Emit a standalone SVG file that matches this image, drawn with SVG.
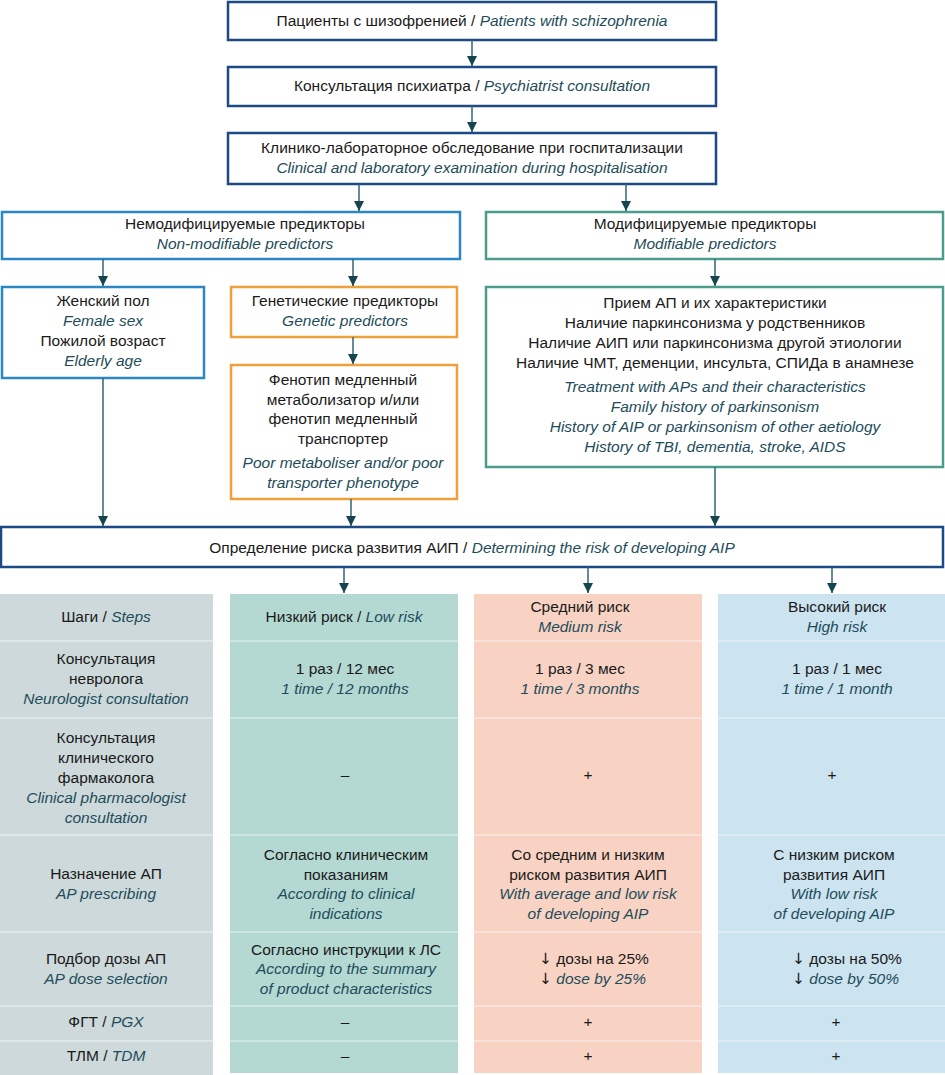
<svg xmlns="http://www.w3.org/2000/svg" width="945" height="1075" viewBox="0 0 945 1075">
<defs>
<marker id="ah" viewBox="0 0 10 10" refX="10" refY="5" markerWidth="10" markerHeight="10" markerUnits="userSpaceOnUse" orient="auto">
<path d="M0,0 L10,5 L0,10 z" fill="#16444f"/>
</marker>
<style>
text{font-family:"Liberation Sans",Arial,sans-serif;font-size:15.5px;fill:#1a1a1a;text-anchor:middle}
.i{font-style:italic;fill:#1d4c5a}
.navy{fill:#fff;stroke:#1d4a85;stroke-width:2.5}
.blue{fill:#fff;stroke:#2b86c5;stroke-width:2.5}
.teal{fill:#fff;stroke:#4c9c8c;stroke-width:2.5}
.orange{fill:#fff;stroke:#eea03a;stroke-width:2.5}
.con line{stroke:#2f6673;stroke-width:1.5;marker-end:url(#ah)}
.sep{stroke:#ffffff;stroke-opacity:0.45;stroke-width:1.5}
.l{text-anchor:start}
.ar{font-family:"DejaVu Sans",sans-serif;fill:#1a1a1a;font-style:normal}
</style>
</defs>
<rect width="945" height="1075" fill="#fff"/>

<g id="n1"><rect class="navy" x="228" y="2" width="488" height="38"/>
<text x="472" y="26">Пациенты с шизофренией / <tspan class="i">Patients with schizophrenia</tspan></text></g>
<g id="n2"><rect class="navy" x="228" y="67" width="488" height="39"/>
<text x="472" y="91">Консультация психиатра / <tspan class="i">Psychiatrist consultation</tspan></text></g>
<g id="n3"><rect class="navy" x="228" y="133" width="488" height="51"/>
<text x="472" y="153">Клинико-лабораторное обследование при госпитализации</text>
<text x="472" y="173" class="i">Clinical and laboratory examination during hospitalisation</text></g>

<g id="nonmod"><rect class="blue" x="2" y="212" width="458" height="47"/>
<text x="245" y="229">Немодифицируемые предикторы</text>
<text x="245" y="249" class="i">Non-modifiable predictors</text></g>
<g id="mod"><rect class="teal" x="486" y="212" width="457" height="47"/>
<text x="705" y="229">Модифицируемые предикторы</text>
<text x="705" y="249" class="i">Modifiable predictors</text></g>

<g id="female"><rect class="blue" x="2" y="287" width="202" height="91"/>
<text x="103" y="306">Женский пол</text>
<text x="103" y="326" class="i">Female sex</text>
<text x="103" y="346">Пожилой возраст</text>
<text x="103" y="366" class="i">Elderly age</text></g>
<g id="genetic"><rect class="orange" x="231" y="287" width="226" height="50"/>
<text x="345" y="306">Генетические предикторы</text>
<text x="345" y="326" class="i">Genetic predictors</text></g>
<g id="phenotype"><rect class="orange" x="231" y="365" width="226" height="134"/>
<text x="343" y="385">Фенотип медленный</text>
<text x="343" y="405">метаболизатор и/или</text>
<text x="343" y="424">фенотип медленный</text>
<text x="343" y="444">транспортер</text>
<text x="343" y="468" class="i">Poor metaboliser and/or poor</text>
<text x="343" y="488" class="i">transporter phenotype</text></g>
<g id="modlist"><rect class="teal" x="486" y="287" width="457" height="180"/>
<text x="715" y="308">Прием АП и их характеристики</text>
<text x="715" y="328">Наличие паркинсонизма у родственников</text>
<text x="715" y="348">Наличие АИП или паркинсонизма другой этиологии</text>
<text x="715" y="368">Наличие ЧМТ, деменции, инсульта, СПИДа в анамнезе</text>
<text x="715" y="392" class="i">Treatment with APs and their characteristics</text>
<text x="715" y="412" class="i">Family history of parkinsonism</text>
<text x="715" y="432" class="i">History of AIP or parkinsonism of other aetiology</text>
<text x="715" y="452" class="i">History of TBI, dementia, stroke, AIDS</text></g>

<g id="risk"><rect class="navy" x="1" y="527" width="942" height="40"/>
<text x="472" y="553">Определение риска развития АИП / <tspan class="i">Determining the risk of developing AIP</tspan></text></g>

<g id="connectors" class="con">
<line x1="472" y1="40" x2="472" y2="66"/>
<line x1="472" y1="106" x2="472" y2="132"/>
<line x1="359" y1="184" x2="359" y2="211"/>
<line x1="626" y1="184" x2="626" y2="211"/>
<line x1="103" y1="259" x2="103" y2="286"/>
<line x1="353" y1="259" x2="353" y2="286"/>
<line x1="715" y1="259" x2="715" y2="286"/>
<line x1="353" y1="337" x2="353" y2="364"/>
<line x1="103" y1="378" x2="103" y2="526"/>
<line x1="351" y1="499" x2="351" y2="526"/>
<line x1="715" y1="467" x2="715" y2="526"/>
<line x1="344" y1="567" x2="344" y2="593"/>
<line x1="588" y1="567" x2="588" y2="593"/>
<line x1="832" y1="567" x2="832" y2="593"/>
</g>

<g id="table">
<rect x="0" y="594" width="213" height="481" fill="#cdd9da"/>
<rect x="230" y="594" width="228" height="479" fill="#b4d9d3"/>
<rect x="474" y="594" width="228" height="479" fill="#f8d3c4"/>
<rect x="718" y="594" width="227" height="479" fill="#cce3f0"/>
<g class="sep">
<line x1="0" y1="641" x2="945" y2="641"/>
<line x1="0" y1="718" x2="945" y2="718"/>
<line x1="0" y1="835" x2="945" y2="835"/>
<line x1="0" y1="932" x2="945" y2="932"/>
<line x1="0" y1="1006" x2="945" y2="1006"/>
<line x1="0" y1="1041" x2="945" y2="1041"/>
</g>

<text x="106" y="622">Шаги / <tspan class="i">Steps</tspan></text>
<text x="344" y="622">Низкий риск / <tspan class="i">Low risk</tspan></text>
<text x="580" y="612">Средний риск</text>
<text x="580" y="632" class="i">Medium risk</text>
<text x="837" y="612">Высокий риск</text>
<text x="837" y="632" class="i">High risk</text>

<text x="106" y="664">Консультация</text>
<text x="106" y="684">невролога</text>
<text x="106" y="704" class="i">Neurologist consultation</text>
<text x="345" y="674">1 раз / 12 мес</text>
<text x="345" y="694" class="i">1 time / 12 months</text>
<text x="580" y="674">1 раз / 3 мес</text>
<text x="580" y="694" class="i">1 time / 3 months</text>
<text x="837" y="674">1 раз / 1 мес</text>
<text x="837" y="694" class="i">1 time / 1 month</text>

<text x="106" y="743">Консультация</text>
<text x="106" y="763">клинического</text>
<text x="106" y="783">фармаколога</text>
<text x="106" y="803" class="i">Clinical pharmacologist</text>
<text x="106" y="823" class="i">consultation</text>
<text x="345" y="780">–</text>
<text x="588" y="780">+</text>
<text x="832" y="780">+</text>

<text x="106" y="879">Назначение АП</text>
<text x="106" y="899" class="i">AP prescribing</text>
<text x="346" y="860">Согласно клиническим</text>
<text x="346" y="880">показаниям</text>
<text x="346" y="899" class="i">According to clinical</text>
<text x="346" y="919" class="i">indications</text>
<text x="588" y="860">Со средним и низким</text>
<text x="588" y="880">риском развития АИП</text>
<text x="588" y="899" class="i">With average and low risk</text>
<text x="588" y="919" class="i">of developing AIP</text>
<text x="834" y="860">С низким риском</text>
<text x="834" y="880">развития АИП</text>
<text x="834" y="899" class="i">With low risk</text>
<text x="834" y="919" class="i">of developing AIP</text>

<text x="106" y="964">Подбор дозы АП</text>
<text x="106" y="984" class="i">AP dose selection</text>
<text x="346" y="955">Согласно инструкции к ЛС</text>
<text x="346" y="974" class="i">According to the summary</text>
<text x="346" y="994" class="i">of product characteristics</text>
<text x="539" y="964" class="l"><tspan class="ar">↓</tspan> дозы на 25%</text>
<text x="539" y="984" class="l"><tspan class="ar">↓</tspan><tspan class="i">  dose by 25%</tspan></text>
<text x="792" y="964" class="l"><tspan class="ar">↓</tspan> дозы на 50%</text>
<text x="792" y="984" class="l"><tspan class="ar">↓</tspan><tspan class="i">  dose by 50%</tspan></text>

<text x="106" y="1027">ФГТ / <tspan class="i">PGX</tspan></text>
<text x="345" y="1027">–</text>
<text x="588" y="1027">+</text>
<text x="836" y="1027">+</text>

<text x="106" y="1061">ТЛМ / <tspan class="i">TDM</tspan></text>
<text x="345" y="1061">–</text>
<text x="588" y="1061">+</text>
<text x="836" y="1061">+</text>
</g>
</svg>
